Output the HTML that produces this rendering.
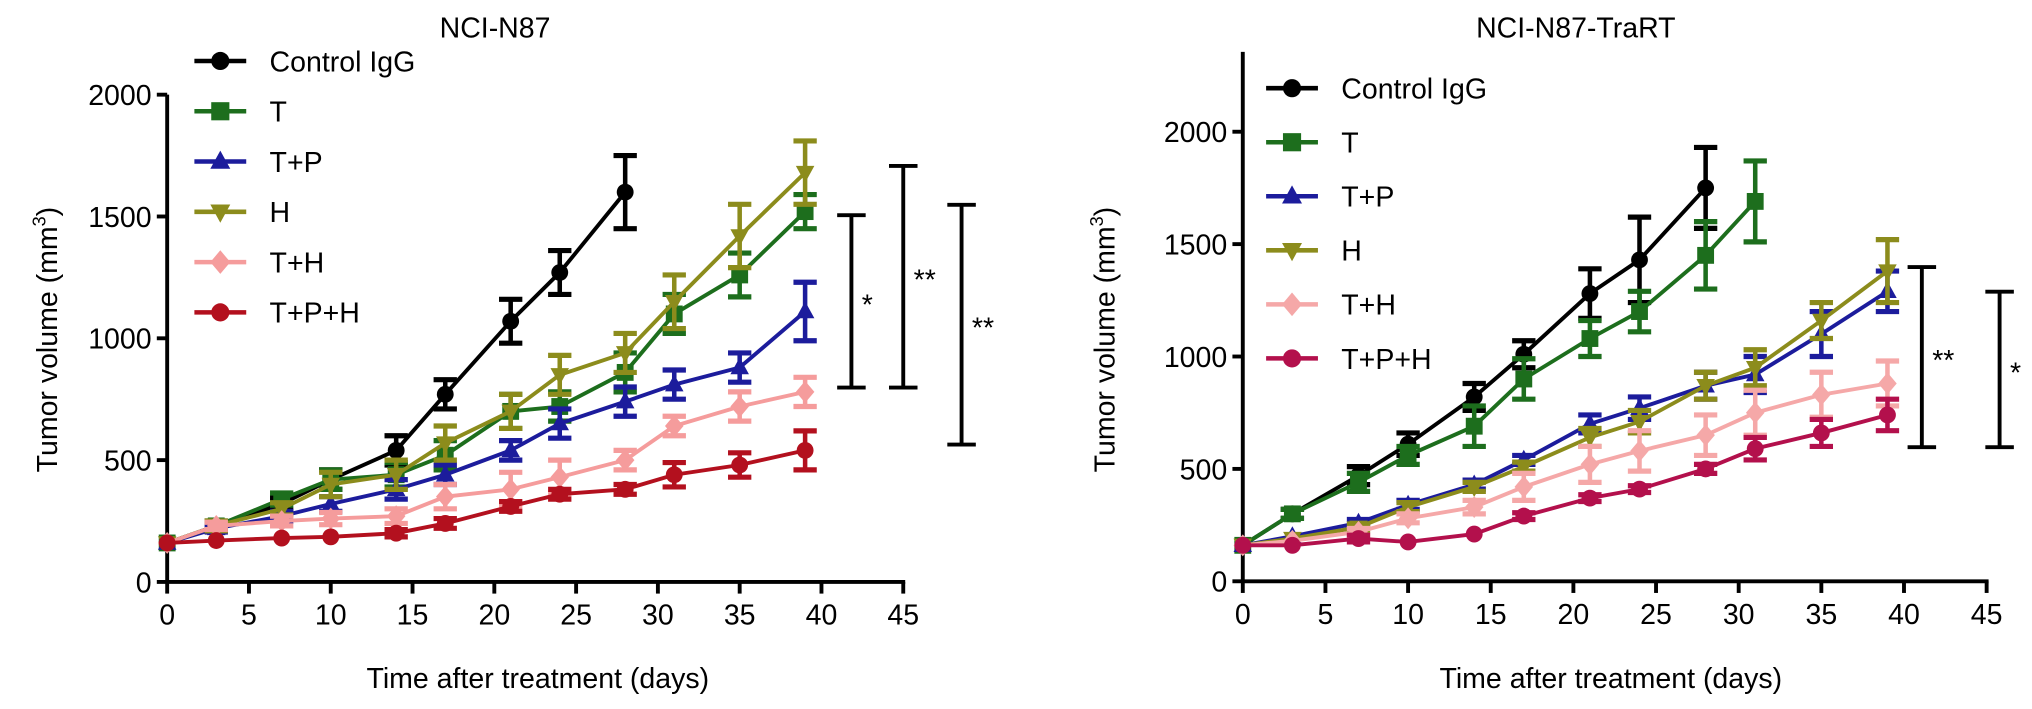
<!DOCTYPE html>
<html><head><meta charset="utf-8"><style>
html,body{margin:0;padding:0;background:#fff;}
svg{display:block;font-family:"Liberation Sans",Arial,sans-serif;}
</style></head><body>
<svg id="chart" width="2032" height="709" viewBox="0 0 1568 547" xmlns="http://www.w3.org/2000/svg"></svg>
<script>
const days = [0,3,7,10,14,17,21,24,28,31,35,39];
const seriesNames = ["Control IgG","T","T+P","H","T+H","T+P+H"];
const markers = ["circle","square","tri-up","tri-down","diamond","circle"];
const colorsLeft = ["#000000","#1d6e1d","#1c1c9c","#8c8c1c","#f59c9c","#b3101e"];
const colorsRight = ["#000000","#1d6e1d","#1c1c9c","#8c8c1c","#f5a8a8","#b3104c"];
// Left: NCI-N87
const leftControl = [160,230,320,420,540,770,1070,1270,1600];
const leftControlErr = [10,15,25,40,60,60,90,90,150];
const leftT = [160,230,340,420,440,520,700,720,860,1100,1260,1520];
const leftTErr = [10,20,25,40,50,60,70,60,80,80,90,70];
const leftTP = [160,220,270,320,380,440,540,650,740,810,880,1110];
const leftTPErr = [10,15,20,30,40,40,40,60,60,60,60,120];
const leftH = [160,230,300,400,440,570,700,850,940,1150,1420,1680];
const leftHErr = [10,20,25,50,60,70,70,80,80,110,130,130];
const leftTH = [160,230,250,260,270,350,380,430,500,640,720,780];
const leftTHErr = [10,15,20,25,30,50,70,70,40,40,60,60];
const leftTPH = [160,170,180,185,200,240,310,360,380,440,480,540];
const leftTPHErr = [10,10,10,10,15,20,20,20,20,50,50,80];
// Right: NCI-N87-TraRT
const rightControl = [160,300,470,610,820,1010,1280,1430,1750];
const rightControlErr = [10,20,40,50,60,60,110,190,180];
const rightT = [160,300,440,560,690,900,1080,1200,1450,1690];
const rightTErr = [10,20,40,40,90,90,80,90,150,180];
const rightTP = [160,200,260,340,430,540,700,770,870,920,1100,1290];
const rightTPErr = [10,10,15,20,20,20,40,50,60,80,100,90];
const rightH = [160,190,240,330,420,510,640,710,870,950,1160,1380];
const rightHErr = [10,10,15,20,20,20,40,50,60,80,80,140];
const rightTH = [160,180,220,280,330,420,520,580,650,750,830,880];
const rightTHErr = [10,10,15,20,30,60,80,90,90,100,100,100];
const rightTPH = [160,160,190,175,210,290,370,410,500,590,660,740];
const rightTPHErr = [10,10,15,10,10,15,15,15,20,50,60,70];
const xTicks = [0,5,10,15,20,25,30,35,40,45];
const yTicks = [0,500,1000,1500,2000];

const NS = "http://www.w3.org/2000/svg";
const svg = document.getElementById("chart");
const FS = 22;
function el(tag, attrs, parent, text){
  const e = document.createElementNS(NS, tag);
  for (const k in attrs) e.setAttribute(k, attrs[k]);
  if (text !== undefined) e.textContent = text;
  (parent || svg).appendChild(e);
  return e;
}
function marker(g, type, cx, cy, color, r){
  let m;
  if (type === "circle") m = el("circle",{cx:cx,cy:cy,r:r,fill:color},g);
  else if (type === "square") m = el("rect",{x:cx-r,y:cy-r,width:2*r,height:2*r,fill:color},g);
  else if (type === "tri-up") m = el("polygon",{points:`${cx},${cy-r*1.2} ${cx-r*1.1},${cy+r*0.8} ${cx+r*1.1},${cy+r*0.8}`,fill:color},g);
  else if (type === "tri-down") m = el("polygon",{points:`${cx},${cy+r*1.2} ${cx-r*1.1},${cy-r*0.8} ${cx+r*1.1},${cy-r*0.8}`,fill:color},g);
  else m = el("polygon",{points:`${cx},${cy-r*1.3} ${cx+r*1.1},${cy} ${cx},${cy+r*1.3} ${cx-r*1.1},${cy}`,fill:color},g);
  
  
}

function drawPanel(cfg){
  const g = el("g",{});
  
  
  const X = d => cfg.x0 + (d/45)*(cfg.x45 - cfg.x0);
  const Y = v => cfg.y0 - (v/2000)*(cfg.y0 - cfg.y2000);
  const t = el("text",{x:cfg.titleX,y:29,"font-size":FS,"text-anchor":"middle"},g,cfg.title);
  
  
  const ya = el("line",{x1:cfg.x0,y1:cfg.yTop,x2:cfg.x0,y2:cfg.y0+1,stroke:"#000","stroke-width":3},g);
  
  
  const xa = el("line",{x1:cfg.x0-1,y1:cfg.y0,x2:X(45)+1.5,y2:cfg.y0,stroke:"#000","stroke-width":3},g);
  
  
  yTicks.forEach(v => {
    el("line",{x1:cfg.x0-8,y1:Y(v),x2:cfg.x0,y2:Y(v),stroke:"#000","stroke-width":3},g);
    const l = el("text",{x:cfg.x0-12,y:Y(v)+8,"font-size":FS,"text-anchor":"end"},g,String(v));
    
    
  });
  xTicks.forEach(d => {
    el("line",{x1:X(d),y1:cfg.y0,x2:X(d),y2:cfg.y0+9,stroke:"#000","stroke-width":3},g);
    const l = el("text",{x:X(d),y:cfg.y0+33,"font-size":FS,"text-anchor":"middle"},g,String(d));
    
    
  });
  const xt = el("text",{x:cfg.xTitleX,y:531,"font-size":FS,"text-anchor":"middle"},g,"Time after treatment (days)");
  
  
  const yt = el("text",{x:0,y:0,"font-size":FS,"text-anchor":"middle",transform:`translate(${cfg.yTitleX},${cfg.yTitleY}) rotate(-90)`},g);
  
  
  el("tspan",{},yt,"Tumor volume (mm");
  el("tspan",{"font-size":14,dy:-9},yt,"3");
  el("tspan",{"font-size":FS,dy:9},yt,")");
  cfg.series.forEach((s, i) => {
    const col = cfg.colors[i];
    const sg = el("g",{},g);
    
    
    const pts = s.vals.map((v, j) => `${X(days[j])},${Y(v)}`).join(" ");
    el("polyline",{points:pts,fill:"none",stroke:col,"stroke-width":3},sg);
    s.vals.forEach((v, j) => {
      const e = s.err[j], cx = X(days[j]);
      if (e > 12){
        el("line",{x1:cx,y1:Y(v+e),x2:cx,y2:Y(v-e),stroke:col,"stroke-width":3.5},sg);
        el("line",{x1:cx-9,y1:Y(v+e),x2:cx+9,y2:Y(v+e),stroke:col,"stroke-width":4},sg);
        el("line",{x1:cx-9,y1:Y(v-e),x2:cx+9,y2:Y(v-e),stroke:col,"stroke-width":4},sg);
      }
      marker(sg, markers[i], cx, Y(v), col, 6.5);
    });
  });
  seriesNames.forEach((n, i) => {
    const ly = cfg.legY + i*cfg.legStep;
    const lg = el("g",{},g);
    
    
    el("line",{x1:cfg.legX,y1:ly,x2:cfg.legX+40,y2:ly,stroke:cfg.colors[i],"stroke-width":3.5},lg);
    marker(lg, markers[i], cfg.legX+20, ly, cfg.colors[i], 7);
    el("text",{x:cfg.legX+58,y:ly+8,"font-size":FS},lg,n);
  });
  cfg.brackets.forEach(b => {
    const bg = el("g",{},g);
    
    
    el("line",{x1:b.x,y1:b.t,x2:b.x,y2:b.b,stroke:"#000","stroke-width":3},bg);
    el("line",{x1:b.x-11,y1:b.t,x2:b.x+11,y2:b.t,stroke:"#000","stroke-width":3},bg);
    el("line",{x1:b.x-11,y1:b.b,x2:b.x+11,y2:b.b,stroke:"#000","stroke-width":3},bg);
    el("text",{x:b.x+8,y:(b.t+b.b)/2+10,"font-size":FS},bg,b.s);
  });
}

drawPanel({name:"panel-nci-n87",title:"NCI-N87",titleX:382,x0:129,x45:697,y0:449,y2000:73,yTop:73,
  xTitleX:415,yTitleX:44,yTitleY:262,colors:colorsLeft,legX:150,legY:47,legStep:38.8,
  series:[{vals:leftControl,err:leftControlErr},{vals:leftT,err:leftTErr},{vals:leftTP,err:leftTPErr},
          {vals:leftH,err:leftHErr},{vals:leftTH,err:leftTHErr},{vals:leftTPH,err:leftTPHErr}],
  brackets:[{x:657,t:166,b:299,s:"*"},{x:697,t:128,b:299,s:"**"},{x:742,t:158,b:343,s:"**"}]});
drawPanel({name:"panel-nci-n87-trart",title:"NCI-N87-TraRT",titleX:1216,x0:959,x45:1533,y0:448.5,y2000:101.6,yTop:40,
  xTitleX:1243,yTitleX:860,yTitleY:262,colors:colorsRight,legX:977,legY:68,legStep:41.7,
  series:[{vals:rightControl,err:rightControlErr},{vals:rightT,err:rightTErr},{vals:rightTP,err:rightTPErr},
          {vals:rightH,err:rightHErr},{vals:rightTH,err:rightTHErr},{vals:rightTPH,err:rightTPHErr}],
  brackets:[{x:1483,t:206,b:345,s:"**"},{x:1543,t:225,b:345,s:"*"}]});
</script>
</body></html>
